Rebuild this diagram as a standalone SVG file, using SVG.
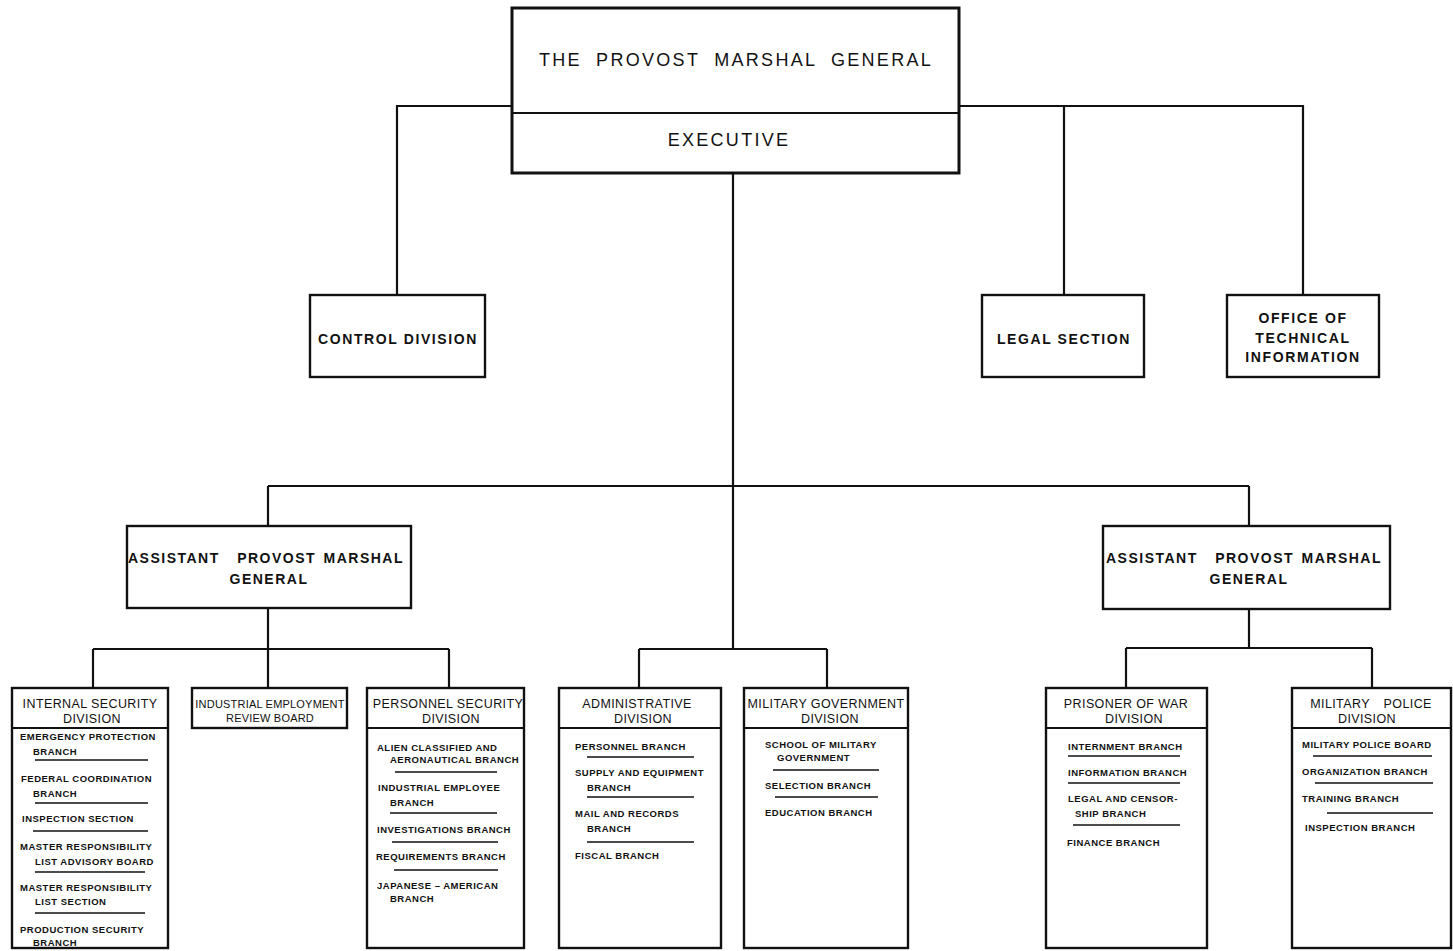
<svg xmlns="http://www.w3.org/2000/svg" width="1453" height="951" viewBox="0 0 1453 951">
<style>
.box{fill:#fff;stroke:#111;stroke-width:2.4}
.big{stroke-width:3}
.div{stroke:#111;stroke-width:2}
.con{fill:none;stroke:#111;stroke-width:2.2}
.ul{stroke:#111;stroke-width:1.4}
text{font-family:"Liberation Sans",Arial,sans-serif;fill:#111}
.t1{font-size:18px;letter-spacing:2.3px;word-spacing:7px;text-anchor:middle}
.t2{font-size:14px;font-weight:bold;letter-spacing:1.6px;text-anchor:middle}
.t3{font-size:14px;font-weight:bold;letter-spacing:1.5px;word-spacing:2px;text-anchor:middle}
.h{font-size:12.5px;letter-spacing:0.4px;text-anchor:middle}
.hb{font-size:11px;letter-spacing:0.2px;text-anchor:middle}
.s{font-size:9.5px;font-weight:bold;letter-spacing:0.5px}
</style>
<rect width="1453" height="951" fill="#fff"/>
<g id="connectors">
<path class="con" d="M512,106 H397 V295"/>
<path class="con" d="M959,106 H1303 V295"/>
<path class="con" d="M1064,106 V295"/>
<path class="con" d="M733,173 V649"/>
<path class="con" d="M268,486 H1249"/>
<path class="con" d="M268,486 V526"/>
<path class="con" d="M1249,486 V526"/>
<path class="con" d="M268,608 V688"/>
<path class="con" d="M93,649 H449"/>
<path class="con" d="M93,649 V688"/>
<path class="con" d="M449,649 V688"/>
<path class="con" d="M639,649 H827"/>
<path class="con" d="M639,649 V688"/>
<path class="con" d="M827,649 V688"/>
<path class="con" d="M1249,609 V648"/>
<path class="con" d="M1126,648 H1372"/>
<path class="con" d="M1126,648 V688"/>
<path class="con" d="M1372,648 V688"/>
</g>
<g id="pmg">
<rect class="box big" x="512" y="8" width="447" height="165"/>
<line class="div" x1="512" y1="113" x2="959" y2="113"/>
<text class="t1" x="736" y="66">THE PROVOST MARSHAL GENERAL</text>
<text class="t1" x="729" y="146">EXECUTIVE</text>
</g>
<g id="control">
<rect class="box" x="310" y="295" width="175" height="82"/>
<text class="t2" x="398" y="344">CONTROL DIVISION</text>
</g>
<g id="legal">
<rect class="box" x="982" y="295" width="162" height="82"/>
<text class="t2" x="1064" y="344">LEGAL SECTION</text>
</g>
<g id="oti">
<rect class="box" x="1227" y="295" width="152" height="82"/>
<text class="t2" x="1303" y="323">OFFICE OF</text>
<text class="t2" x="1303" y="343">TECHNICAL</text>
<text class="t2" x="1303" y="362">INFORMATION</text>
</g>
<g id="apmg-left">
<rect class="box" x="127" y="526" width="284" height="82"/>
<text class="t3" x="266" y="563">ASSISTANT <tspan dx="10">PROVOST MARSHAL</tspan></text>
<text class="t3" x="269" y="584">GENERAL</text>
</g>
<g id="apmg-right">
<rect class="box" x="1103" y="526" width="287" height="83"/>
<text class="t3" x="1244" y="563">ASSISTANT <tspan dx="10">PROVOST MARSHAL</tspan></text>
<text class="t3" x="1249" y="584">GENERAL</text>
</g>
<g id="internal-security">
<rect class="box" x="12" y="688" width="156" height="260"/>
<line class="div" x1="12" y1="728" x2="168" y2="728"/>
<text class="h" x="90" y="708">INTERNAL SECURITY</text>
<text class="h" x="92" y="723">DIVISION</text>
<text class="s" x="20" y="739.5">EMERGENCY PROTECTION</text>
<text class="s" x="33" y="754.5">BRANCH</text>
<line class="ul" x1="35" y1="760" x2="148" y2="760"/>
<text class="s" x="21" y="781.5">FEDERAL COORDINATION</text>
<text class="s" x="33" y="796.5">BRANCH</text>
<line class="ul" x1="35" y1="803" x2="148" y2="803"/>
<text class="s" x="22" y="821.5">INSPECTION SECTION</text>
<line class="ul" x1="33" y1="831" x2="148" y2="831"/>
<text class="s" x="20" y="849.5">MASTER RESPONSIBILITY</text>
<text class="s" x="35" y="864.5">LIST ADVISORY BOARD</text>
<line class="ul" x1="35" y1="872" x2="145" y2="872"/>
<text class="s" x="20" y="890.5">MASTER RESPONSIBILITY</text>
<text class="s" x="35" y="904.5">LIST SECTION</text>
<line class="ul" x1="35" y1="913" x2="145" y2="913"/>
<text class="s" x="20" y="932.5">PRODUCTION SECURITY</text>
<text class="s" x="33" y="946">BRANCH</text>
</g>
<g id="industrial-employment">
<rect class="box" x="192" y="688" width="155" height="40"/>
<text class="hb" x="270" y="708">INDUSTRIAL EMPLOYMENT</text>
<text class="hb" x="270" y="722">REVIEW BOARD</text>
</g>
<g id="personnel-security">
<rect class="box" x="367" y="688" width="157" height="260"/>
<line class="div" x1="367" y1="728" x2="524" y2="728"/>
<text class="h" x="448" y="708">PERSONNEL SECURITY</text>
<text class="h" x="451" y="723">DIVISION</text>
<text class="s" x="377" y="750.5">ALIEN CLASSIFIED AND</text>
<text class="s" x="390" y="762.5">AERONAUTICAL BRANCH</text>
<line class="ul" x1="395" y1="772" x2="497" y2="772"/>
<text class="s" x="378" y="790.5">INDUSTRIAL EMPLOYEE</text>
<text class="s" x="390" y="805.5">BRANCH</text>
<line class="ul" x1="390" y1="813" x2="497" y2="813"/>
<text class="s" x="377" y="832.5">INVESTIGATIONS BRANCH</text>
<line class="ul" x1="392" y1="842" x2="498" y2="842"/>
<text class="s" x="376" y="859.5">REQUIREMENTS BRANCH</text>
<line class="ul" x1="394" y1="870" x2="498" y2="870"/>
<text class="s" x="377" y="888.5">JAPANESE – AMERICAN</text>
<text class="s" x="390" y="901.5">BRANCH</text>
</g>
<g id="administrative">
<rect class="box" x="559" y="688" width="162" height="260"/>
<line class="div" x1="559" y1="728" x2="721" y2="728"/>
<text class="h" x="637" y="708">ADMINISTRATIVE</text>
<text class="h" x="643" y="723">DIVISION</text>
<text class="s" x="575" y="749.5">PERSONNEL BRANCH</text>
<line class="ul" x1="587" y1="757" x2="694" y2="757"/>
<text class="s" x="575" y="775.5">SUPPLY AND EQUIPMENT</text>
<text class="s" x="587" y="790.5">BRANCH</text>
<line class="ul" x1="587" y1="797" x2="694" y2="797"/>
<text class="s" x="575" y="816.5">MAIL AND RECORDS</text>
<text class="s" x="587" y="831.5">BRANCH</text>
<line class="ul" x1="587" y1="842" x2="694" y2="842"/>
<text class="s" x="575" y="858.5">FISCAL BRANCH</text>
</g>
<g id="military-government">
<rect class="box" x="744" y="688" width="164" height="260"/>
<line class="div" x1="744" y1="728" x2="908" y2="728"/>
<text class="h" x="826" y="708">MILITARY GOVERNMENT</text>
<text class="h" x="830" y="723">DIVISION</text>
<text class="s" x="765" y="747.5">SCHOOL OF MILITARY</text>
<text class="s" x="777" y="760.5">GOVERNMENT</text>
<line class="ul" x1="773" y1="770" x2="879" y2="770"/>
<text class="s" x="765" y="788.5">SELECTION BRANCH</text>
<line class="ul" x1="775" y1="797" x2="878" y2="797"/>
<text class="s" x="765" y="815.5">EDUCATION BRANCH</text>
</g>
<g id="prisoner-of-war">
<rect class="box" x="1046" y="688" width="161" height="260"/>
<line class="div" x1="1046" y1="728" x2="1207" y2="728"/>
<text class="h" x="1126" y="708">PRISONER OF WAR</text>
<text class="h" x="1134" y="723">DIVISION</text>
<text class="s" x="1068" y="749.5">INTERNMENT BRANCH</text>
<line class="ul" x1="1068" y1="756" x2="1180" y2="756"/>
<text class="s" x="1068" y="775.5">INFORMATION BRANCH</text>
<line class="ul" x1="1068" y1="783" x2="1180" y2="783"/>
<text class="s" x="1068" y="801.5">LEGAL AND CENSOR-</text>
<text class="s" x="1075" y="816.5">SHIP BRANCH</text>
<line class="ul" x1="1073" y1="825" x2="1180" y2="825"/>
<text class="s" x="1067" y="845.5">FINANCE BRANCH</text>
</g>
<g id="military-police">
<rect class="box" x="1292" y="688" width="159" height="260"/>
<line class="div" x1="1292" y1="728" x2="1451" y2="728"/>
<text class="h" x="1371" y="708" style="word-spacing:10px">MILITARY POLICE</text>
<text class="h" x="1367" y="723">DIVISION</text>
<text class="s" x="1302" y="747.5">MILITARY POLICE BOARD</text>
<line class="ul" x1="1313" y1="756" x2="1432" y2="756"/>
<text class="s" x="1302" y="774.5">ORGANIZATION BRANCH</text>
<line class="ul" x1="1315" y1="783" x2="1433" y2="783"/>
<text class="s" x="1302" y="801.5">TRAINING BRANCH</text>
<line class="ul" x1="1327" y1="813" x2="1433" y2="813"/>
<text class="s" x="1305" y="830.5">INSPECTION BRANCH</text>
</g>
</svg>
